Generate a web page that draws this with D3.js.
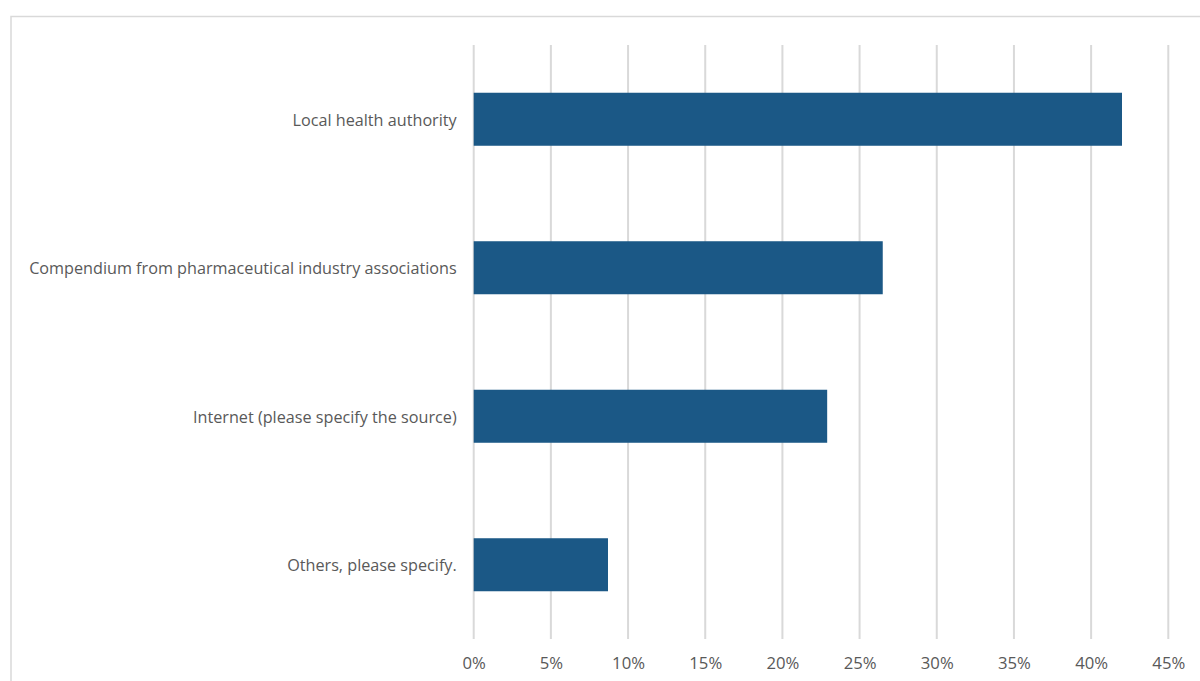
<!DOCTYPE html>
<html>
<head>
<meta charset="utf-8">
<script src="https://cdn.jsdelivr.net/npm/d3@7"></script>
<style>
  html, body { margin: 0; padding: 0; background: #fff; }
  svg { display: block; }
</style>
</head>
<body>
<svg id="chart" width="1200" height="681"></svg>
<script>
// Information sources, top to bottom
const categories = [
  "Local health authority",
  "Compendium from pharmaceutical industry associations",
  "Internet (please specify the source)",
  "Others, please specify."
];
// Share of respondents (%)
const values = [42, 26.5, 22.9, 8.7];
// Axis ticks (%)
const ticks = [0, 5, 10, 15, 20, 25, 30, 35, 40, 45];

const svg = d3.select("#chart");
const font = "'Open Sans', 'Liberation Sans', sans-serif";
const textColor = "#595959";

// Outer chart frame
svg.append("rect")
  .attr("x", 11).attr("y", 16.5)
  .attr("width", 1300).attr("height", 800)
  .attr("fill", "#fff")
  .attr("stroke", "#d9d9d9").attr("stroke-width", 1.5);

const plot = { left: 473.7, right: 1168.3, top: 45, bottom: 639 };

const x = d3.scaleLinear().domain([0, 45]).range([plot.left, plot.right]);
const y = d3.scaleBand().domain(categories).range([plot.top, plot.bottom])
  .paddingInner(0.643).paddingOuter(0.3215);

// Vertical gridlines
svg.append("g").selectAll("line").data(ticks).join("line")
  .attr("x1", d => x(d)).attr("x2", d => x(d))
  .attr("y1", plot.top).attr("y2", plot.bottom)
  .attr("stroke", "#d9d9d9").attr("stroke-width", 2);

// Bars
svg.append("g").selectAll("rect").data(values).join("rect")
  .attr("x", x(0))
  .attr("y", (d, i) => y(categories[i]))
  .attr("width", d => x(d) - x(0))
  .attr("height", y.bandwidth())
  .attr("fill", "#1b5886");

// X axis labels
const xAxis = d3.axisBottom(x).tickValues(ticks).tickFormat(d => d + "%").tickSize(0).tickPadding(0);
const gx = svg.append("g").attr("transform", `translate(0,${plot.bottom + 18})`).call(xAxis);
gx.select(".domain").remove();
gx.selectAll("text")
  .attr("fill", textColor)
  .style("font-family", font)
  .style("font-size", "15px");

// Category labels
const yAxis = d3.axisLeft(y).tickSize(0).tickPadding(0);
const gy = svg.append("g").attr("transform", `translate(${plot.left - 17},1.5)`).call(yAxis);
gy.select(".domain").remove();
gy.selectAll("text")
  .attr("fill", textColor)
  .style("font-family", font)
  .style("font-size", "15px");

// Fit the longest category label to its available width
let maxLen = 0;
gy.selectAll("text").each(function() { maxLen = Math.max(maxLen, this.getComputedTextLength()); });
const size = 15 * 428 / maxLen;
gy.selectAll("text").style("font-size", size.toFixed(2) + "px");
gx.selectAll("text").style("font-size", (size + 0.5).toFixed(2) + "px");
</script>
</body>
</html>
